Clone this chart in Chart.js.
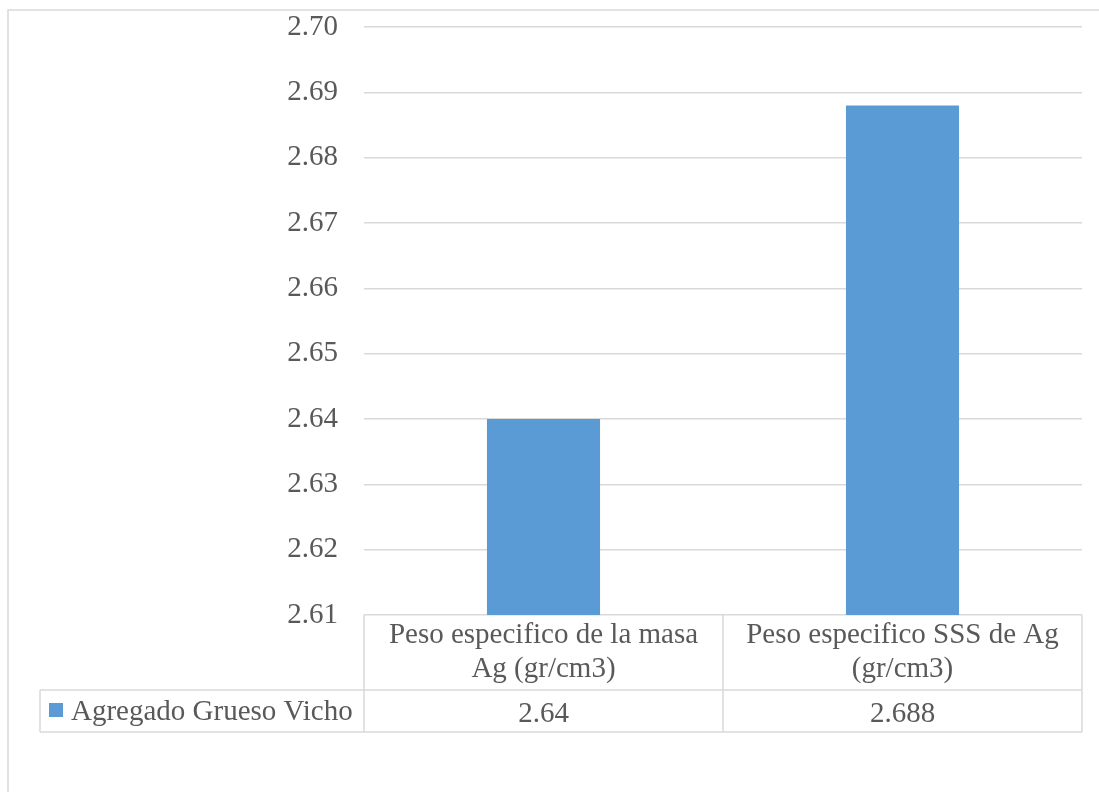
<!DOCTYPE html>
<html>
<head>
<meta charset="utf-8">
<script src="https://cdn.jsdelivr.net/npm/chart.js@4.4.1/dist/chart.umd.min.js"></script>
<style>
  html, body { margin: 0; padding: 0; background: #ffffff; }
  #wrap { width: 1099px; height: 792px; }
</style>
</head>
<body>
<div id="wrap"><canvas id="c" width="1099" height="792"></canvas></div>
<script>
// Categories (multi-line labels), series and axis range
const categories = [
  ["Peso especifico de la masa", "Ag (gr/cm3)"],
  ["Peso especifico SSS de Ag", "(gr/cm3)"]
];
const seriesName = "Agregado Grueso Vicho";
const seriesValues = [2.64, 2.688];
const yMin = 2.61;
const yMax = 2.70;
const yStep = 0.01;

const FONT = "'Liberation Serif', 'Times New Roman', serif";
const TEXT = '#595959';
const LINE = '#d9d9d9';
const BAR = '#5b9bd5';

// Draws the outer frame and the data table under the plot area
const dataTable = {
  id: 'dataTable',
  afterDraw(chart) {
    const { ctx, chartArea, scales: { x } } = chart;
    const left = chartArea.left, right = chartArea.right, axisY = chartArea.bottom;
    const rowTop = 690, rowBottom = 732, keyLeft = 40;
    const bounds = [left];
    for (let i = 1; i < categories.length; i++) {
      bounds.push((x.getPixelForValue(i - 1) + x.getPixelForValue(i)) / 2);
    }
    bounds.push(right);

    ctx.save();
    ctx.strokeStyle = LINE;
    ctx.lineWidth = 1.5;
    ctx.beginPath();
    // outer frame
    ctx.moveTo(8, 792); ctx.lineTo(8, 10); ctx.lineTo(1099, 10);
    // table rules
    ctx.moveTo(keyLeft, rowTop); ctx.lineTo(right, rowTop);
    ctx.moveTo(keyLeft, rowBottom); ctx.lineTo(right, rowBottom);
    ctx.moveTo(keyLeft, rowTop); ctx.lineTo(keyLeft, rowBottom);
    bounds.forEach(b => { ctx.moveTo(b, axisY); ctx.lineTo(b, rowBottom); });
    ctx.stroke();

    // legend key + series name
    ctx.fillStyle = BAR;
    ctx.fillRect(49, 703, 14, 14);
    ctx.font = `29px ${FONT}`;
    ctx.fillStyle = TEXT;
    ctx.textBaseline = 'alphabetic';
    ctx.textAlign = 'left';
    ctx.fillText(seriesName, 71, 720);

    // values
    ctx.textAlign = 'center';
    seriesValues.forEach((v, i) => {
      ctx.fillText(String(v), x.getPixelForValue(i), 721.5);
    });
    ctx.restore();
  }
};

new Chart(document.getElementById('c'), {
  type: 'bar',
  data: {
    labels: categories,
    datasets: [{
      label: seriesName,
      data: seriesValues,
      backgroundColor: BAR,
      borderWidth: 0,
      barPercentage: 0.315,
      categoryPercentage: 1
    }]
  },
  options: {
    responsive: false,
    animation: false,
    devicePixelRatio: 1,
    layout: { padding: { top: 27, right: 17, bottom: 0, left: 0 } },
    plugins: {
      legend: { display: false },
      tooltip: { enabled: false }
    },
    scales: {
      x: {
        ticks: {
          color: TEXT,
          font: { family: FONT, size: 29, lineHeight: 34 / 29 },
          padding: 3,
          maxRotation: 0,
          minRotation: 0,
          autoSkip: false
        },
        grid: { display: false, drawTicks: false },
        border: { display: false },
        afterFit: s => { s.height = 792 - 615; }
      },
      y: {
        min: yMin,
        max: yMax,
        ticks: {
          stepSize: yStep,
          padding: 26,
          color: TEXT,
          font: { family: FONT, size: 29 },
          callback: v => Number(v).toFixed(2)
        },
        grid: { color: LINE, lineWidth: 1.5, drawTicks: false },
        border: { display: false },
        afterFit: s => { s.width = 364; s.paddingTop = 0; s.paddingBottom = 0; }
      }
    }
  },
  plugins: [dataTable]
});
</script>
</body>
</html>
